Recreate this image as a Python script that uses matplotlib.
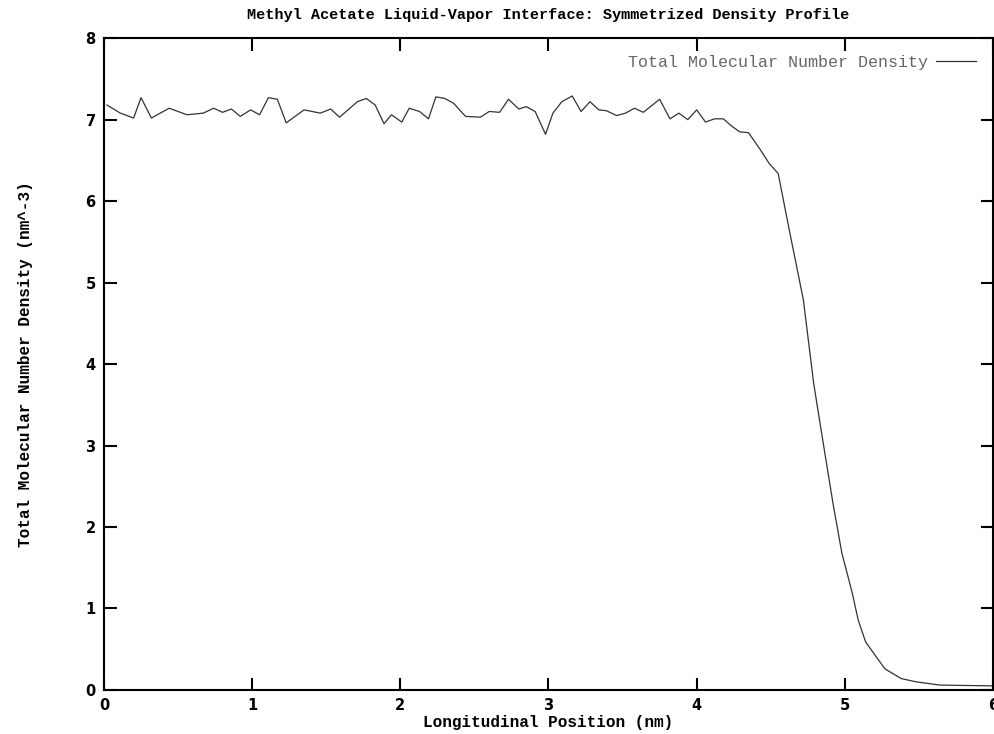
import matplotlib
matplotlib.use("Agg")
import matplotlib.pyplot as plt

# symmetrized density profile
position = [0.02, 0.11, 0.20, 0.25, 0.32, 0.44, 0.56, 0.67, 0.74, 0.80, 0.86, 0.92,
            0.99, 1.05, 1.11, 1.17, 1.23, 1.35, 1.46, 1.53, 1.59, 1.71, 1.77, 1.83,
            1.89, 1.94, 2.01, 2.06, 2.13, 2.19, 2.24, 2.30, 2.36, 2.44, 2.54, 2.60,
            2.67, 2.73, 2.80, 2.85, 2.91, 2.98, 3.03, 3.09, 3.16, 3.22, 3.28, 3.34,
            3.39, 3.46, 3.52, 3.58, 3.64, 3.75, 3.82, 3.88, 3.94, 4.00, 4.06, 4.12,
            4.18, 4.23, 4.29, 4.35, 4.43, 4.49, 4.55, 4.63, 4.72, 4.79, 4.84, 4.92,
            4.98, 5.05, 5.09, 5.14, 5.27, 5.38, 5.48, 5.64, 6.00]
density = [7.18, 7.08, 7.02, 7.27, 7.02, 7.14, 7.06, 7.08, 7.14, 7.09, 7.13, 7.04,
           7.12, 7.06, 7.27, 7.25, 6.96, 7.12, 7.08, 7.13, 7.03, 7.22, 7.26, 7.18,
           6.95, 7.06, 6.97, 7.14, 7.10, 7.01, 7.28, 7.26, 7.20, 7.04, 7.03, 7.10,
           7.09, 7.25, 7.13, 7.16, 7.10, 6.82, 7.08, 7.22, 7.29, 7.10, 7.22, 7.12,
           7.11, 7.05, 7.08, 7.14, 7.09, 7.25, 7.01, 7.08, 7.00, 7.12, 6.97, 7.01,
           7.01, 6.93, 6.85, 6.84, 6.63, 6.46, 6.34, 5.60, 4.79, 3.76, 3.19, 2.29,
           1.68, 1.19, 0.86, 0.59, 0.26, 0.14, 0.10, 0.06, 0.05]

mono = "Liberation Mono"

fig, ax = plt.subplots(figsize=(9.95, 7.34), dpi=100)
fig.subplots_adjust(left=0.1045, right=0.998, top=0.948, bottom=0.060)

ax.plot(position, density, color="#333333", lw=0.9,
        label="Total Molecular Number Density")

ax.set_xlim(0, 6)
ax.set_ylim(0, 8)
ax.set_xticks(range(0, 7))
ax.set_yticks(range(0, 9))
ax.tick_params(direction="in", length=9, width=1.5, top=True, right=True,
               labelsize=10.5, pad=6)
for lab in ax.get_xticklabels() + ax.get_yticklabels():
    lab.set_fontweight("bold")
for s in ax.spines.values():
    s.set_linewidth(1.5)

ax.set_title("Methyl Acetate Liquid-Vapor Interface: Symmetrized Density Profile",
             family=mono, fontweight="bold", fontsize=11, pad=14)
ax.set_xlabel("Longitudinal Position (nm)", family=mono, fontweight="bold",
              fontsize=11.5, labelpad=1)
ax.set_ylabel("Total Molecular Number Density (nm^-3)", family=mono,
              fontweight="bold", fontsize=11.5, labelpad=38)

leg = ax.legend(loc="upper right", frameon=False, markerfirst=False,
                prop={"family": mono, "size": 12}, handlelength=2.4,
                handletextpad=0.5, borderaxespad=0.6)
for t in leg.get_texts():
    t.set_color("#666666")

fig.savefig("out.png", dpi=100)
